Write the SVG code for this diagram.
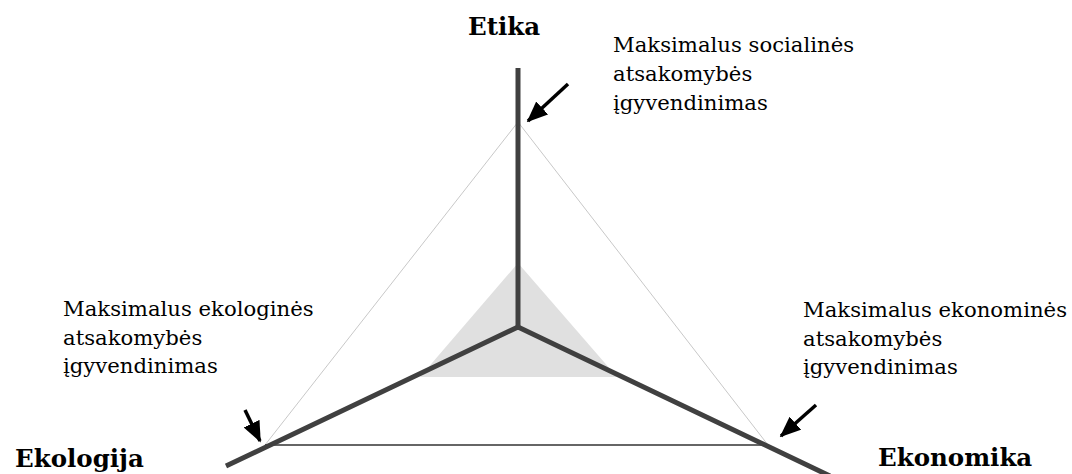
<svg xmlns="http://www.w3.org/2000/svg" width="1072" height="474" viewBox="0 0 1072 474">
<style>
.lbl{font-family:'DejaVu Serif',serif;font-size:21.2px;fill:#000}
.axlbl{font-family:'DejaVu Serif',serif;font-size:24.5px;font-weight:bold;fill:#000}
.axis{stroke:#404040;stroke-width:5;fill:none;stroke-linecap:butt}
.side{stroke:#c8c8c8;stroke-width:1;fill:none}
.arrow{stroke:#000;stroke-width:3.5;fill:none}
</style>
<defs>
<marker id="ah" markerWidth="6" markerHeight="5" refX="5.5" refY="2.5" orient="auto" markerUnits="strokeWidth">
<path d="M0,0 L6,2.5 L0,5 Z" fill="#000"/>
</marker>
</defs>
<rect width="1072" height="474" fill="#fff"/>
<g id="shaded">
<polygon points="518,263 420,377 617,377" fill="#e0e0e0"/>
</g>
<g id="outer-triangle">
<line class="side" x1="518" y1="122" x2="265" y2="445"/>
<line class="side" x1="518" y1="122" x2="768" y2="445"/>
<line x1="265" y1="445" x2="768" y2="445" stroke="#333" stroke-width="1.5"/>
</g>
<g id="connectors">
<line class="axis" x1="518" y1="68" x2="518" y2="329"/>
<polyline class="axis" points="226,466 518,327 830,476" stroke-linejoin="miter"/>
<line class="arrow" x1="568" y1="84" x2="528" y2="121" marker-end="url(#ah)"/>
<line class="arrow" x1="245" y1="410" x2="260" y2="441" marker-end="url(#ah)"/>
<line class="arrow" x1="816" y1="405" x2="781" y2="436" marker-end="url(#ah)"/>
</g>
<g id="node-etika">
<text class="axlbl" x="468" y="35">Etika</text>
</g>
<g id="node-ekologija">
<text class="axlbl" x="15" y="467">Ekologija</text>
</g>
<g id="node-ekonomika">
<text class="axlbl" x="878" y="466">Ekonomika</text>
</g>
<g id="label-social">
<text class="lbl" x="613" y="52">Maksimalus socialinės</text>
<text class="lbl" x="613" y="81">atsakomybės</text>
<text class="lbl" x="613" y="110">įgyvendinimas</text>
</g>
<g id="label-eco">
<text class="lbl" x="63" y="316">Maksimalus ekologinės</text>
<text class="lbl" x="63" y="345">atsakomybės</text>
<text class="lbl" x="63" y="373">įgyvendinimas</text>
</g>
<g id="label-econ">
<text class="lbl" x="803" y="317">Maksimalus ekonominės</text>
<text class="lbl" x="803" y="346">atsakomybės</text>
<text class="lbl" x="803" y="374">įgyvendinimas</text>
</g>
</svg>
